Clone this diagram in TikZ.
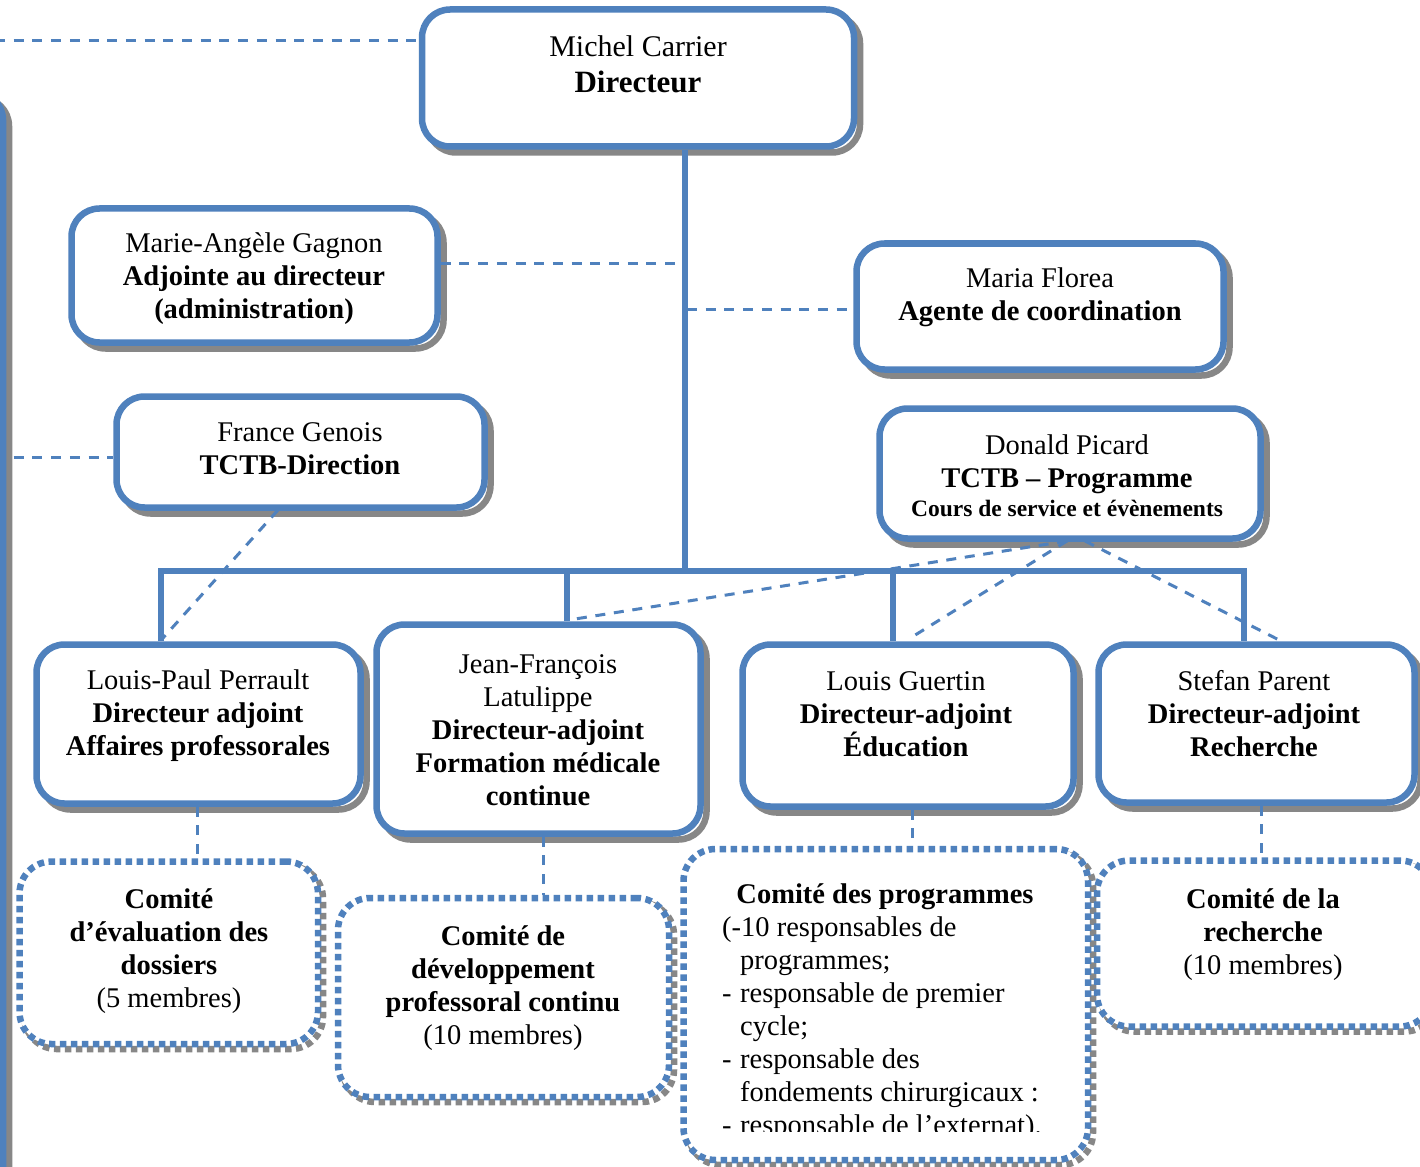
\documentclass[tikz,border=0pt]{standalone}
\usepackage{fontspec}
\setmainfont{Liberation Serif}
\usetikzlibrary{calc}
\definecolor{obl}{HTML}{4F81BD}
\definecolor{shd}{HTML}{878787}
\tikzset{
  orgbox/.style={draw=obl, line width=6.5pt, fill=white, rounded corners=28pt, inner sep=0pt,
    preaction={draw=shd, line width=6.5pt, fill=none, transform canvas={shift={(6pt,-6pt)}}}},
  combox/.style={draw=obl, line width=6.5pt, fill=white, rounded corners=32pt, inner sep=0pt,
    dash pattern=on 6.5pt off 4.5pt,
    preaction={draw=shd, line width=6.5pt, fill=none, dash pattern=on 6.5pt off 4.5pt,
      transform canvas={shift={(5pt,-5pt)}}}},
  solidlink/.style={draw=obl, line width=6pt},
  dashlink/.style={draw=obl, line width=3pt, dash pattern=on 10pt off 8.7pt},
  txt/.style={align=center, font=\fontsize{28.5}{33}\selectfont, inner sep=0pt},
}
\begin{document}
\begin{tikzpicture}[x=1pt,y=-1pt]
\useasboundingbox (0,0) rectangle (1420,1166);
\fill[white] (0,0) rectangle (1420,1166);

% boxes
\node[orgbox, minimum width=306pt, minimum height=1216pt] (lb) at (-150,700) {};
\node[orgbox, minimum width=432pt, minimum height=137pt] (dir) at (638,78) {};
\node[orgbox, minimum width=366pt, minimum height=134pt] (mag) at (254.5,275.5) {};
\node[orgbox, minimum width=367pt, minimum height=126pt] (mf) at (1040,306.5) {};
\node[orgbox, minimum width=368pt, minimum height=111pt] (fg) at (300.5,452) {};
\node[orgbox, minimum width=381pt, minimum height=130pt] (dp) at (1070,473.5) {};
\node[orgbox, minimum width=324pt, minimum height=159pt] (lp) at (198.5,724) {};
\node[orgbox, minimum width=324pt, minimum height=209pt] (jf) at (538.5,729) {};
\node[orgbox, minimum width=331pt, minimum height=162pt] (lg) at (908,725.5) {};
\node[orgbox, minimum width=316pt, minimum height=158pt] (sp) at (1256.5,723.5) {};
\node[combox, minimum width=298.5pt, minimum height=182.5pt] (ce) at (168.75,952.75) {};
\node[combox, minimum width=331pt, minimum height=199pt] (cd) at (503.5,997.5) {};
\node[combox, minimum width=404.5pt, minimum height=311pt] (cp) at (885.75,1004.5) {};
\node[combox, minimum width=335pt, minimum height=166pt] (cr) at (1264.5,943.5) {};

% solid connectors
\coordinate (tr) at (685,0);
\coordinate (bl) at (161,571);
\coordinate (br) at (1244,571);
\coordinate (bj) at (567,571);
\coordinate (bg) at (893,571);
\draw[solidlink] (dir.south -| tr) -- (bl -| tr);
\draw[solidlink] (bl |- lp.north) -- (bl) -- (br) -- (br |- sp.north);
\draw[solidlink] (bj) -- (bj |- jf.north);
\draw[solidlink] (bg) -- (bg |- lg.north);

% dashed connectors
\coordinate (l1) at (-5,41);
\draw[dashlink] (l1) -- (l1 -| dir.west);
\coordinate (m1) at (684,263);
\draw[dashlink] (m1 -| mag.east) -- (m1);
\coordinate (m2) at (687,309);
\draw[dashlink] (m2) -- (m2 -| mf.west);
\coordinate (l2) at (-5,457);
\draw[dashlink] (l2) -- (l2 -| fg.west);
\coordinate (fgs) at (278,510);
\coordinate (fge) at (163,638);
\draw[dashlink] (fgs) -- (fge);
\coordinate (dps) at (1067,541);
\coordinate (dpr) at (1085,541);
\coordinate (jfe) at (575,619);
\coordinate (lge) at (912,637);
\coordinate (spe) at (1281,641);
\draw[dashlink] (dps) -- (jfe);
\draw[dashlink] (dps) -- (lge);
\draw[dashlink] (dpr) -- (spe);
\coordinate (c1) at (197,0);
\coordinate (c2) at (543,0);
\coordinate (c3) at (912,0);
\coordinate (c4) at (1261,0);
\draw[dashlink] (lp.south -| c1) -- (ce.north -| c1);
\draw[dashlink] (jf.south -| c2) -- (cd.north -| c2);
\draw[dashlink] (lg.south -| c3) -- (cp.north -| c3);
\draw[dashlink] (sp.south -| c4) -- (cr.north -| c4);

% texts
\node[txt, font=\fontsize{30}{33}\selectfont] (tdir) at (638,64.5) {Michel Carrier\\[3pt] \textbf{\fontsize{31}{33}\selectfont Directeur}};
\node[txt] (tmag) at (254,279) {Marie-Angèle Gagnon\\ \textbf{Adjointe au directeur}\\ \textbf{(administration)}};
\node[txt] (tmf) at (1040,297.5) {Maria Florea\\ \textbf{Agente de coordination}};
\node[txt] (tfg) at (300,449) {France Genois\\ \textbf{TCTB-Direction}};
\node[txt] (tdp) at (1067,476) {Donald Picard\\ \textbf{TCTB – Programme}\\[-4pt] \textbf{\fontsize{23.5}{30}\selectfont Cours de service et évènements}};
\node[txt] (tlp) at (198,716) {Louis-Paul Perrault\\ \textbf{Directeur adjoint}\\ \textbf{Affaires professorales}};
\node[txt] (tjf) at (538,730) {Jean-François\\ Latulippe\\ \textbf{Directeur-adjoint}\\ \textbf{Formation médicale}\\ \textbf{continue}};
\node[txt] (tlg) at (906,714.5) {Louis Guertin\\ \textbf{Directeur-adjoint}\\ \textbf{Éducation}};
\node[txt] (tsp) at (1254,713.5) {Stefan Parent\\ \textbf{Directeur-adjoint}\\ \textbf{Recherche}};
\node[txt] (tce) at (169,951.5) {\textbf{Comité}\\ \textbf{d’évaluation des}\\ \textbf{dossiers}\\ (5 membres)};
\node[txt] (tcd) at (503,988.5) {\textbf{Comité de}\\ \textbf{développement}\\ \textbf{professoral continu}\\ (10 membres)};
\node[txt] (tcr) at (1263,935) {\textbf{Comité de la}\\ \textbf{recherche}\\ (10 membres)};
\node[txt] (tcp) at (885,897) {\textbf{Comité des programmes}};
\begin{scope}
\clip (680,905) rectangle (1090,1131);
\node[txt, align=left, anchor=north west] (tcpl) at (722,917) {(-10 responsables de\\
\hspace*{18pt}programmes;\\
\makebox[18pt][l]{-}responsable de premier\\
\hspace*{18pt}cycle;\\
\makebox[18pt][l]{-}responsable des\\
\hspace*{18pt}fondements chirurgicaux :\\
\makebox[18pt][l]{-}responsable de l’externat).};
\end{scope}
\end{tikzpicture}
\end{document}
